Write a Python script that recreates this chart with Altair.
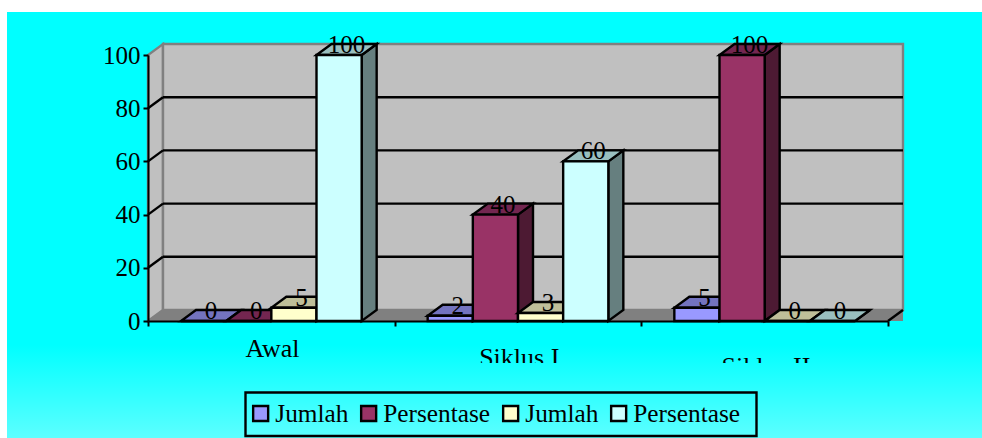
import altair as alt
import pandas as pd

# Values per category, one list per series
categories = ["Awal", "Siklus I", "Siklus II"]
series_names = ["Jumlah", "Persentase", "Jumlah ", "Persentase "]
jumlah_a = [0, 2, 5]
persentase_a = [0, 40, 100]
jumlah_b = [5, 3, 0]
persentase_b = [100, 60, 0]
series_values = [jumlah_a, persentase_a, jumlah_b, persentase_b]
y_ticks = [0, 20, 40, 60, 80, 100]
grid_ticks = [20, 40, 60, 80]

front_colors = ["#9999FF", "#993366", "#FFFFCC", "#CCFFFF"]
top_colors = ["#7373BF", "#732650", "#BFBF99", "#99BFBF"]
side_colors = ["#4D4D80", "#4D1A33", "#80806A", "#667F7F"]

FONT = "Liberation Serif"
PLOT_W, PLOT_H = 740, 266
LEFT, TOP = 148, 55
DX = 15 / (PLOT_W / 3)      # oblique depth, in category units
DY = 11 / (PLOT_H / 100)    # oblique depth, in value units
GAP = 33 / (PLOT_W / 3)     # space either side of a bar group
BAR = (1 - 2 * GAP) / 4     # bar width, in category units
LINE = 2.4

X_SCALE = alt.Scale(domain=[0, 3], nice=False, zero=False)
Y_SCALE = alt.Scale(domain=[0, 100], nice=False, zero=False)
X_AXIS = alt.Axis(
    values=[0, 1, 2, 3], labels=False, title=None, grid=False, tickSize=5,
    tickWidth=2, tickColor="black", domainColor="black", domainWidth=2, zindex=1,
)
Y_AXIS = alt.Axis(
    values=y_ticks, title=None, grid=False, tickSize=5, tickWidth=2,
    tickColor="black", domainColor="black", domainWidth=2, labelFont=FONT,
    labelFontSize=25, labelColor="black", labelPadding=3, zindex=1,
)


def xq(field="x"):
    return alt.X(f"{field}:Q", scale=X_SCALE, axis=X_AXIS, stack=None)


def yq(field="y"):
    return alt.Y(f"{field}:Q", scale=Y_SCALE, axis=Y_AXIS, stack=None)


def vert_area(rows, fill, stroke):
    # Parallelogram with two vertical edges
    return alt.Chart(pd.DataFrame(rows)).mark_area(
        fill=fill, stroke=stroke, strokeWidth=LINE
    ).encode(x=xq(), y=yq(), y2="y2:Q", detail="k:N")


def horiz_area(rows, fill, stroke=None):
    # Parallelogram with two horizontal edges
    props = dict(fill=fill, orient="horizontal")
    if stroke:
        props.update(stroke=stroke, strokeWidth=LINE)
    return alt.Chart(pd.DataFrame(rows)).mark_area(**props).encode(
        x=xq(), x2="x2:Q", y=yq(), detail="k:N"
    )


def segment(rows, color, width=LINE):
    return alt.Chart(pd.DataFrame(rows)).mark_line(
        color=color, strokeWidth=width
    ).encode(x=xq(), y=yq(), detail="k:N")


def gradient(stops):
    return alt.Gradient(
        gradient="linear", x1=0, x2=0, y1=0, y2=1,
        stops=[alt.GradientStop(offset=o, color=c) for o, c in stops],
    )


def panel_rect(y_top, y_bottom, stops):
    # Pixel-placed backdrop, measured from the plot origin
    return alt.Chart(pd.DataFrame({"k": [0]})).mark_rect(fill=gradient(stops)).encode(
        x=alt.value(7 - LEFT), x2=alt.value(982 - LEFT),
        y=alt.value(y_top - TOP), y2=alt.value(y_bottom - TOP),
    )


# Backdrop: solid cyan fading lighter towards the bottom
FADE_START, FADE_END, PANEL_TOP = 345, 438, 12


def fade(y):
    t = max(0, (y - FADE_START) / (FADE_END - FADE_START))
    r = round(0x5C * t)
    return f"#{r:02X}FFFF"


backdrop = panel_rect(PANEL_TOP, FADE_END, [
    (0, "#00FFFF"),
    ((FADE_START - PANEL_TOP) / (FADE_END - PANEL_TOP), "#00FFFF"),
    (1, fade(FADE_END)),
])
label_cover = panel_rect(363, FADE_END, [(0, fade(363)), (1, fade(FADE_END))])

# Frame around the legend
legend_frame = alt.Chart(pd.DataFrame({"k": [0]})).mark_rect(
    fillOpacity=0, stroke="black", strokeWidth=LINE
).encode(
    x=alt.value(245.5 - LEFT), x2=alt.value(756.5 - LEFT),
    y=alt.value(392.5 - TOP), y2=alt.value(436 - TOP),
)

# Chart walls and floor
side_wall = vert_area(
    [{"x": 0, "y": 0, "y2": 100, "k": 0}, {"x": DX, "y": DY, "y2": 100 + DY, "k": 0}],
    "#C0C0C0", "#808080",
)
back_wall = alt.Chart(pd.DataFrame({"x": [DX], "x2": [3 + DX], "y": [DY], "y2": [100 + DY]})).mark_rect(
    fill="#C0C0C0", stroke="#808080", strokeWidth=LINE
).encode(x=xq(), x2="x2:Q", y=yq(), y2="y2:Q")
floor_corner = alt.Chart(pd.DataFrame({"x": [3], "x2": [3 + DX], "y": [0], "y2": [DY]})).mark_rect(
    fill="#808080"
).encode(x=xq(), x2="x2:Q", y=yq(), y2="y2:Q")
floor = horiz_area(
    [{"x": 0, "x2": 3, "y": 0, "k": 0}, {"x": DX, "x2": 3 + DX, "y": DY, "k": 0}],
    "#808080",
)
floor_edge = segment([{"x": 3, "y": 0, "k": 0}, {"x": 3 + DX, "y": DY, "k": 0}], "black")

# Gridlines across the back wall and down the side wall
grid_back = alt.Chart(pd.DataFrame({
    "y": [t + DY for t in grid_ticks], "x": [DX] * 4, "x2": [3 + DX] * 4,
})).mark_rule(color="black", strokeWidth=LINE).encode(x=xq(), x2="x2:Q", y=yq())
grid_side = segment(
    [r for t in grid_ticks for r in (
        {"x": 0, "y": t, "k": t}, {"x": DX, "y": t + DY, "k": t})],
    "black",
)

# Bars: each series painted left to right so nearer faces overlap
bar_layers = []
for s, (name, values) in enumerate(zip(series_names, series_values)):
    spans = [(c + GAP + s * BAR, c + GAP + (s + 1) * BAR, v) for c, v in enumerate(values)]
    top_rows, side_rows, front_rows = [], [], []
    for k, (x0, x1, v) in enumerate(spans):
        top_rows += [
            {"x": x0, "x2": x1, "y": v, "k": k},
            {"x": x0 + DX, "x2": x1 + DX, "y": v + DY, "k": k},
        ]
        side_rows += [
            {"x": x1, "y": v, "y2": 0, "k": k},
            {"x": x1 + DX, "y": v + DY, "y2": DY, "k": k},
        ]
        front_rows.append({"x": x0, "x2": x1, "y": v, "y2": 0, "series": name})
    bar_layers += [
        vert_area(side_rows, side_colors[s], "black"),
        horiz_area(top_rows, top_colors[s], "black"),
        alt.Chart(pd.DataFrame(front_rows)).mark_rect(stroke="black", strokeWidth=LINE).encode(
            x=xq(), x2="x2:Q", y=yq(), y2="y2:Q",
            color=alt.Color(
                "series:N",
                scale=alt.Scale(domain=series_names, range=front_colors),
                sort=None,
                legend=alt.Legend(
                    title=None, orient="none", legendX=244 - LEFT, legendY=391 - TOP,
                    direction="horizontal", columns=4, symbolType="square",
                    symbolSize=225, symbolStrokeColor="black", symbolStrokeWidth=LINE,
                    labelFont=FONT, labelFontSize=25.3, labelColor="black",
                    labelOffset=2, columnPadding=7, padding=4, clipHeight=37,
                ),
            ),
        ),
    ]

# Value labels sit on the top face of each bar
value_rows = [
    {"x": c + GAP + (s + 0.5) * BAR + DX / 2, "y": v, "text": str(v)}
    for s, values in enumerate(series_values)
    for c, v in enumerate(values)
]
value_text = alt.Chart(pd.DataFrame(value_rows)).mark_text(
    font=FONT, fontSize=25, baseline="alphabetic", dy=-2, color="black"
).encode(x=xq(), y=yq(), text="text:N")

# Category labels step downwards from left to right
label_drop = [13.5, 16.9, 20.3]
category_text = alt.Chart(pd.DataFrame({
    "x": [i + 0.505 for i in range(3)],
    "y": [-d for d in label_drop],
    "text": categories,
})).mark_text(font=FONT, fontSize=26, baseline="alphabetic", color="black").encode(
    x=xq(), y=yq(), text="text:N"
)

chart = alt.layer(
    backdrop, side_wall, back_wall, floor_corner, floor, floor_edge,
    grid_side, grid_back, *bar_layers, value_text, category_text, label_cover, legend_frame,
).properties(
    width=PLOT_W, height=PLOT_H, background="white",
    padding={"left": LEFT, "top": TOP, "right": 982 - LEFT - PLOT_W, "bottom": 438 - TOP - PLOT_H},
    autosize=alt.AutoSizeParams(type="none"),
).configure_view(stroke=None)

chart.save("out.html", embed_options={"renderer": "svg", "actions": False})
